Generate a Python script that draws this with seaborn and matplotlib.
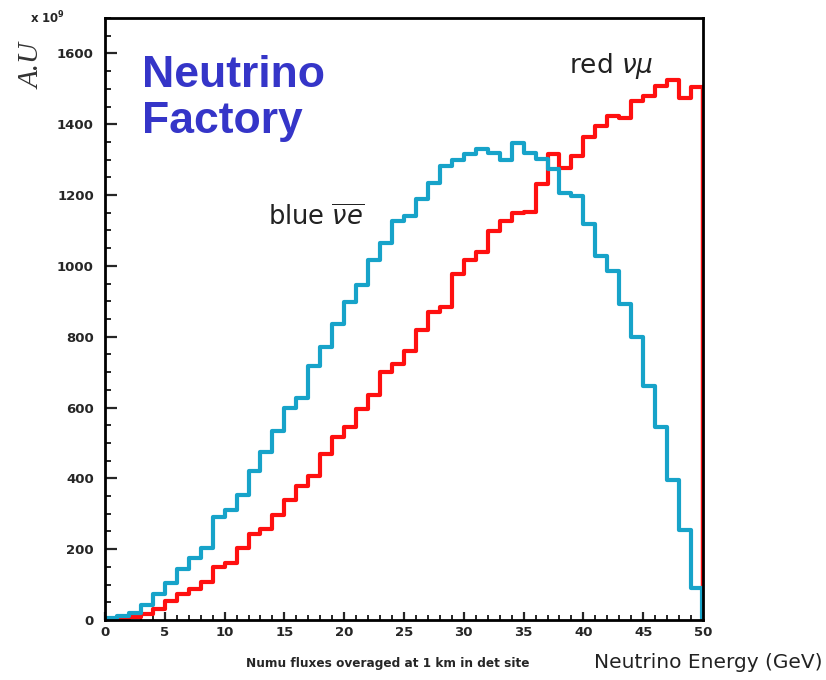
import numpy as np
import pandas as pd
import seaborn as sns
import matplotlib
matplotlib.use("Agg")
import matplotlib.pyplot as plt
from matplotlib.ticker import MultipleLocator

# ---- data (bin contents, x 10^9, 1 GeV bins from 0 to 50 GeV) ----
bin_edges = list(range(0, 51))
blue_nue_bar = [5, 12, 21, 42, 74, 104, 143, 174, 202, 291,
                310, 352, 421, 474, 534, 598, 628, 718, 770, 836,
                897, 946, 1016, 1066, 1128, 1141, 1188, 1235, 1282, 1298,
                1317, 1330, 1320, 1298, 1347, 1320, 1302, 1274, 1206, 1197,
                1117, 1028, 986, 892, 798, 662, 545, 394, 254, 89]
red_numu = [0, 3, 8, 18, 32, 53, 74, 88, 106, 149,
            161, 204, 242, 258, 296, 338, 377, 406, 470, 518,
            545, 597, 636, 700, 724, 760, 820, 869, 883, 977,
            1018, 1038, 1099, 1127, 1150, 1152, 1230, 1315, 1277, 1310,
            1363, 1394, 1423, 1418, 1465, 1479, 1507, 1526, 1474, 1504]
x_ticks = [0, 5, 10, 15, 20, 25, 30, 35, 40, 45, 50]
y_ticks = [0, 200, 400, 600, 800, 1000, 1200, 1400, 1600]

BLUE = "#17A3C9"
RED = "#FF1010"

sns.set_style("ticks")
plt.rcParams["font.family"] = ["DejaVu Sans"]

centers = [e + 0.5 for e in bin_edges[:-1]]
df = pd.DataFrame({"E": centers, "blue": blue_nue_bar, "red": red_numu})

fig = plt.figure(figsize=(8.26, 6.8), dpi=100)
ax = fig.add_axes([105 / 826, 1 - 620 / 680, 598 / 826, 602 / 680])

sns.histplot(data=df, x="E", weights="blue", bins=bin_edges, element="step",
             fill=False, color=BLUE, linewidth=3, ax=ax, zorder=3)
sns.histplot(data=df, x="E", weights="red", bins=bin_edges, element="step",
             fill=False, color=RED, linewidth=3, ax=ax, zorder=2)
# closing drops at the upper edge of the range
ax.vlines(bin_edges[-1] - 0.12, 0, blue_nue_bar[-1], color=BLUE, linewidth=3, zorder=3)
ax.vlines(bin_edges[-1] - 0.12, 0, red_numu[-1], color=RED, linewidth=2.5, zorder=2)

ax.set_xlim(0, 50)
ax.set_ylim(0, 1700)
ax.set_xticks(x_ticks)
ax.set_yticks(y_ticks)
ax.xaxis.set_minor_locator(MultipleLocator(1))
ax.yaxis.set_minor_locator(MultipleLocator(50))
ax.set_xlabel("")
ax.set_ylabel("")

for s in ax.spines.values():
    s.set_visible(True)
    s.set_linewidth(2)
    s.set_color("black")
    s.set_zorder(5)

ax.tick_params(axis="x", which="major", direction="in", length=6, width=1.6,
               pad=4, labelsize=9.5)
ax.tick_params(axis="x", which="minor", direction="in", length=3.5, width=1.4)
ax.tick_params(axis="y", which="major", direction="in", length=8.5, width=1.6,
               pad=8, labelsize=9.5)
ax.tick_params(axis="y", which="minor", direction="in", length=4.5, width=1.4)
ax.tick_params(top=False, right=False, which="both")
for lab in ax.get_xticklabels() + ax.get_yticklabels():
    lab.set_fontweight("bold")

# texts
fig.text(30 / 826, 1 - 18 / 680, r"$\mathbf{x\ 10^{9}}$", fontsize=8.5,
         ha="left", va="center")
fig.text(33 / 826, 1 - 66 / 680, "A.U", rotation=90, fontsize=21,
         family="Liberation Serif", style="italic", ha="center", va="center",
         color="#333333")
ax.text(3.1, 1595, "Neutrino\nFactory", fontsize=32, fontweight="bold",
        family="Liberation Sans", color="#3535C8", ha="left", va="top",
        linespacing=1.15)
ax.text(13.6, 1115, r"blue $\overline{\nu e}$", fontsize=18.5, ha="left",
        va="baseline", color="#222222")
ax.text(38.8, 1545, r"red $\nu\mu$", fontsize=19, ha="left", va="baseline",
        color="#222222")
fig.text(822 / 826, 1 - 662 / 680, "Neutrino Energy (GeV)", fontsize=14.5,
         ha="right", va="center", color="#222222")
fig.text(388 / 826, 1 - 664 / 680, "Numu fluxes overaged at 1 km in det site",
         fontsize=8.7, fontweight="bold", ha="center", va="center")

fig.savefig("out.png", dpi=100, facecolor="white")
